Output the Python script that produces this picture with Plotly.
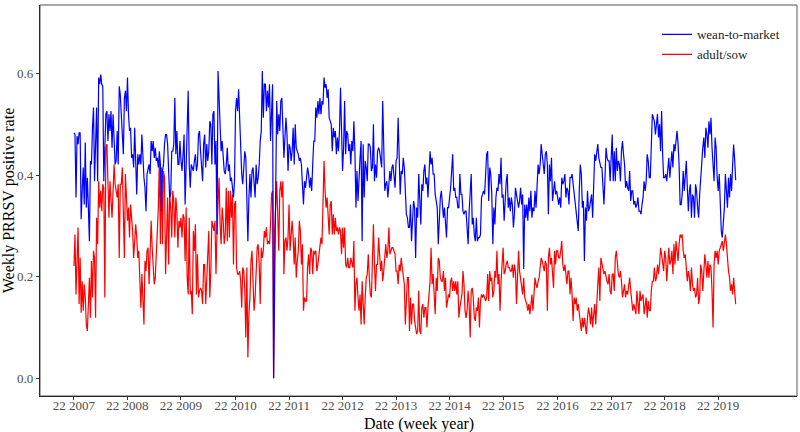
import datetime as dt
import pandas as pd
import plotly.graph_objects as go

# Weekly PRRSV positive rate, starting week 22 of 2007 (weekly observations)
start_week = "2007-05-28"

wean_to_market = [
    0.483, 0.480, 0.356, 0.477, 0.461, 0.483, 0.483, 0.313, 0.369, 0.415,
    0.342, 0.464, 0.336, 0.395, 0.336, 0.270, 0.428, 0.421, 0.493,
    0.533, 0.388, 0.487, 0.533, 0.388, 0.592, 0.579, 0.598, 0.579, 0.575,
    0.388, 0.487, 0.520, 0.526, 0.467, 0.520, 0.487, 0.526, 0.454, 0.520,
    0.474, 0.421, 0.428, 0.487, 0.421, 0.575, 0.559, 0.520, 0.474,
    0.441, 0.552, 0.566, 0.526, 0.592, 0.520, 0.487, 0.493, 0.434, 0.441,
    0.415, 0.493, 0.402, 0.362,
    0.441, 0.421, 0.441, 0.421, 0.480, 0.428, 0.395, 0.375, 0.329, 0.402,
    0.415, 0.421, 0.402, 0.467, 0.447, 0.467, 0.434, 0.454, 0.428,
    0.434, 0.415, 0.447, 0.421, 0.329, 0.408, 0.421, 0.461, 0.480, 0.480,
    0.461, 0.408, 0.356, 0.362, 0.447, 0.447, 0.461, 0.552, 0.441, 0.487,
    0.421, 0.421, 0.467, 0.428, 0.408, 0.441, 0.480, 0.342, 0.408,
    0.487, 0.566, 0.421, 0.375, 0.421, 0.415, 0.408, 0.428, 0.441, 0.408,
    0.421, 0.480, 0.487, 0.447, 0.402, 0.388, 0.461, 0.480,
    0.415, 0.461, 0.428, 0.447, 0.506, 0.500, 0.421, 0.520, 0.526, 0.421,
    0.467, 0.283, 0.605, 0.539, 0.474, 0.447, 0.467, 0.421, 0.408,
    0.402, 0.421, 0.454, 0.408, 0.421, 0.388, 0.395, 0.369, 0.356, 0.388,
    0.526, 0.552, 0.526, 0.569, 0.500, 0.461, 0.402, 0.382, 0.421, 0.447,
    0.434, 0.336, 0.270, 0.356, 0.402, 0.356, 0.408, 0.415, 0.382,
    0.356, 0.421, 0.382, 0.395, 0.421, 0.467, 0.487, 0.605, 0.513, 0.579,
    0.579, 0.526, 0.566, 0.533, 0.579, 0.467, 0.533, 0.579,
    0.000, 0.231, 0.441, 0.546, 0.480, 0.520, 0.487, 0.546, 0.552, 0.493,
    0.434, 0.474, 0.513, 0.480, 0.408, 0.461, 0.454, 0.428, 0.447,
    0.493, 0.421, 0.500, 0.454, 0.447, 0.441, 0.428, 0.434, 0.421, 0.369,
    0.342, 0.388, 0.375, 0.395, 0.415, 0.402, 0.375, 0.395, 0.369, 0.421,
    0.467, 0.467, 0.533, 0.513, 0.546, 0.520, 0.552, 0.520, 0.546,
    0.539, 0.592, 0.572, 0.579, 0.552, 0.569, 0.513, 0.506, 0.500, 0.447,
    0.493, 0.474, 0.487, 0.441, 0.474, 0.447, 0.487, 0.572,
    0.454, 0.408, 0.454, 0.546, 0.441, 0.487, 0.480, 0.447, 0.461, 0.421,
    0.467, 0.447, 0.506, 0.447, 0.336, 0.408, 0.349, 0.402, 0.434, 0.467,
    0.270, 0.461, 0.356, 0.428, 0.415, 0.388, 0.461, 0.461, 0.454, 0.408,
    0.415, 0.500, 0.388, 0.421, 0.395, 0.447, 0.454, 0.447, 0.428, 0.415,
    0.546, 0.454, 0.369, 0.382, 0.388, 0.356, 0.382, 0.408,
    0.388, 0.415, 0.421, 0.402, 0.375, 0.428, 0.434, 0.513, 0.408, 0.362,
    0.408, 0.402, 0.434, 0.415, 0.369, 0.323, 0.316, 0.297,
    0.297, 0.342, 0.270, 0.316, 0.349, 0.336, 0.237, 0.336, 0.316, 0.402,
    0.336, 0.303, 0.382, 0.369, 0.408, 0.421, 0.382, 0.395, 0.356,
    0.421, 0.447, 0.421, 0.434, 0.402, 0.402, 0.362, 0.342, 0.336, 0.264,
    0.323, 0.356, 0.369, 0.342, 0.316, 0.336, 0.310, 0.277, 0.336, 0.336,
    0.356, 0.375, 0.408, 0.441, 0.369, 0.375, 0.356, 0.356, 0.336,
    0.336, 0.402, 0.362, 0.362, 0.329, 0.323, 0.329, 0.329, 0.303, 0.264,
    0.329, 0.369, 0.402, 0.303, 0.316, 0.283, 0.270, 0.316,
    0.270, 0.277, 0.277, 0.283, 0.356, 0.362, 0.369, 0.362, 0.395, 0.441,
    0.447, 0.349, 0.415, 0.402, 0.362, 0.264, 0.336, 0.303, 0.356, 0.375,
    0.369, 0.402, 0.382, 0.434, 0.356, 0.362, 0.310, 0.356, 0.388, 0.402,
    0.336, 0.356, 0.329, 0.356, 0.342, 0.297, 0.323, 0.375, 0.362, 0.356,
    0.336, 0.349, 0.375, 0.342, 0.362, 0.215, 0.342, 0.316,
    0.342, 0.310, 0.356, 0.329, 0.369, 0.316, 0.336, 0.329, 0.369, 0.336,
    0.375, 0.421, 0.402, 0.421, 0.461, 0.434, 0.421, 0.402,
    0.441, 0.447, 0.421, 0.323, 0.421, 0.388, 0.434, 0.349, 0.369, 0.388,
    0.362, 0.369, 0.356, 0.342, 0.356, 0.336, 0.395, 0.382, 0.388,
    0.402, 0.356, 0.375, 0.369, 0.342, 0.395, 0.395, 0.402, 0.382, 0.356,
    0.349, 0.329, 0.310, 0.290, 0.369, 0.421, 0.402, 0.336, 0.349, 0.231,
    0.336, 0.310, 0.369, 0.329, 0.336, 0.356, 0.362, 0.316, 0.362,
    0.441, 0.428, 0.447, 0.461, 0.434, 0.421, 0.415, 0.415, 0.388, 0.342,
    0.395, 0.454, 0.434, 0.428, 0.428, 0.388, 0.434, 0.480,
    0.388, 0.447, 0.388, 0.454, 0.408, 0.428, 0.421, 0.388, 0.447, 0.467,
    0.441, 0.421, 0.375, 0.388, 0.375, 0.369, 0.408, 0.349, 0.369,
    0.369, 0.342, 0.349, 0.336, 0.342, 0.356, 0.329, 0.329, 0.323, 0.342,
    0.356, 0.388, 0.369, 0.388, 0.441, 0.428, 0.395, 0.395, 0.461, 0.520,
    0.513, 0.506, 0.480, 0.500, 0.520, 0.474, 0.500, 0.447, 0.526,
    0.441, 0.395, 0.395, 0.402, 0.388, 0.408, 0.434, 0.395, 0.421, 0.447,
    0.415, 0.461, 0.447, 0.467, 0.487, 0.461, 0.421, 0.342,
    0.342, 0.362, 0.408, 0.369, 0.395, 0.428, 0.375, 0.329, 0.369, 0.382,
    0.316, 0.362, 0.356, 0.316, 0.382, 0.369, 0.336, 0.316, 0.362,
    0.402, 0.428, 0.454, 0.474, 0.434, 0.493, 0.480, 0.454, 0.506, 0.480,
    0.513, 0.454, 0.428,
    0.388, 0.474, 0.454, 0.395, 0.369, 0.402, 0.336, 0.290, 0.277, 0.303,
    0.336, 0.402, 0.369, 0.336, 0.395, 0.356, 0.402, 0.369, 0.420, 0.460,
    0.430, 0.390,
]

adult_sow = [
    0.221, 0.283, 0.165, 0.251, 0.297, 0.146, 0.237, 0.129, 0.191, 0.133,
    0.185, 0.159, 0.106, 0.093, 0.172, 0.198, 0.119, 0.231, 0.159,
    0.251, 0.237, 0.119, 0.316, 0.264, 0.388, 0.336, 0.369, 0.329, 0.382,
    0.375, 0.159, 0.454, 0.461, 0.369, 0.316, 0.388, 0.342, 0.316, 0.369,
    0.421, 0.382, 0.369, 0.356, 0.382, 0.237, 0.382, 0.382, 0.415,
    0.342, 0.237, 0.402, 0.342, 0.310, 0.336, 0.277, 0.342, 0.316, 0.290,
    0.237, 0.277, 0.303, 0.277,
    0.237, 0.251, 0.172, 0.139, 0.205, 0.159, 0.106, 0.231, 0.211, 0.251,
    0.257, 0.185, 0.231, 0.310, 0.257, 0.218, 0.185, 0.198, 0.251,
    0.277, 0.336, 0.434, 0.264, 0.415, 0.264, 0.408, 0.395, 0.205, 0.316,
    0.356, 0.224, 0.362, 0.336, 0.277, 0.369, 0.349, 0.277, 0.356, 0.329,
    0.257, 0.310, 0.297, 0.316, 0.277, 0.323, 0.316, 0.231, 0.336,
    0.198, 0.165, 0.316, 0.165, 0.172, 0.126, 0.290, 0.251, 0.303, 0.165,
    0.244, 0.159, 0.172, 0.178, 0.172, 0.146, 0.224, 0.224,
    0.146, 0.205, 0.270, 0.290, 0.159, 0.211, 0.310, 0.297, 0.290, 0.310,
    0.205, 0.290, 0.336, 0.395, 0.303, 0.264, 0.336, 0.310, 0.264,
    0.283, 0.375, 0.270, 0.369, 0.277, 0.369, 0.316, 0.362, 0.224, 0.342,
    0.349, 0.218, 0.205, 0.205, 0.211, 0.191, 0.139, 0.218, 0.211, 0.172,
    0.080, 0.218, 0.041, 0.126, 0.159, 0.231, 0.251, 0.191, 0.133,
    0.159, 0.205, 0.257, 0.264, 0.224, 0.146, 0.257, 0.237, 0.251, 0.290,
    0.277, 0.297, 0.264, 0.270, 0.264, 0.303, 0.362, 0.369,
    0.000, 0.290, 0.342, 0.388, 0.323, 0.251, 0.369, 0.388, 0.356, 0.388,
    0.205, 0.270, 0.277, 0.251, 0.277, 0.342, 0.251, 0.290, 0.310,
    0.277, 0.224, 0.277, 0.198, 0.231, 0.251, 0.310, 0.290, 0.224, 0.264,
    0.133, 0.159, 0.152, 0.152, 0.218, 0.244, 0.205, 0.257, 0.251, 0.205,
    0.251, 0.244, 0.251, 0.211, 0.224, 0.244, 0.257, 0.277, 0.264,
    0.369, 0.428, 0.369, 0.336, 0.356, 0.316, 0.283, 0.342, 0.349, 0.283,
    0.323, 0.283, 0.316, 0.290, 0.297, 0.283, 0.297, 0.290,
    0.244, 0.297, 0.257, 0.297, 0.224, 0.218, 0.237, 0.218, 0.218, 0.237,
    0.224, 0.218, 0.270, 0.133, 0.185, 0.198, 0.159, 0.133, 0.165, 0.106,
    0.191, 0.133, 0.106, 0.159, 0.198, 0.205, 0.244, 0.198, 0.165, 0.159,
    0.251, 0.303, 0.224, 0.172, 0.224, 0.224, 0.277, 0.231, 0.211, 0.231,
    0.191, 0.211, 0.237, 0.264, 0.237, 0.251, 0.297, 0.244,
    0.251, 0.257, 0.257, 0.251, 0.244, 0.211, 0.211, 0.185, 0.224, 0.211,
    0.237, 0.218, 0.198, 0.185, 0.106, 0.178, 0.198, 0.198,
    0.093, 0.159, 0.106, 0.146, 0.146, 0.113, 0.093, 0.087, 0.093, 0.172,
    0.093, 0.087, 0.139, 0.146, 0.119, 0.139, 0.139, 0.100, 0.139,
    0.159, 0.191, 0.257, 0.185, 0.205, 0.159, 0.126, 0.198, 0.172, 0.237,
    0.231, 0.198, 0.191, 0.191, 0.211, 0.172, 0.198, 0.139, 0.152, 0.165,
    0.159, 0.191, 0.198, 0.172, 0.191, 0.172, 0.191, 0.165, 0.191,
    0.119, 0.139, 0.159, 0.165, 0.211, 0.185, 0.133, 0.119, 0.133, 0.172,
    0.146, 0.080, 0.172, 0.178, 0.159, 0.119, 0.113, 0.139,
    0.133, 0.159, 0.100, 0.152, 0.165, 0.159, 0.165, 0.159, 0.152, 0.159,
    0.205, 0.152, 0.211, 0.191, 0.198, 0.159, 0.172, 0.211, 0.198, 0.251,
    0.185, 0.205, 0.133, 0.191, 0.218, 0.257, 0.205, 0.211, 0.224, 0.231,
    0.218, 0.218, 0.211, 0.211, 0.224, 0.198, 0.224, 0.211, 0.146, 0.205,
    0.251, 0.211, 0.191, 0.178, 0.165, 0.198, 0.159, 0.152,
    0.146, 0.133, 0.146, 0.126, 0.146, 0.165, 0.133, 0.172, 0.198, 0.185,
    0.178, 0.191, 0.198, 0.218, 0.237, 0.231, 0.218, 0.211,
    0.231, 0.224, 0.133, 0.237, 0.257, 0.224, 0.237, 0.211, 0.178, 0.251,
    0.224, 0.251, 0.251, 0.237, 0.237, 0.251, 0.270, 0.224, 0.211,
    0.224, 0.205, 0.185, 0.211, 0.211, 0.165, 0.198, 0.165, 0.113, 0.159,
    0.146, 0.159, 0.133, 0.146, 0.126, 0.106, 0.093, 0.119, 0.100, 0.119,
    0.100, 0.087, 0.119, 0.139, 0.126, 0.106, 0.139, 0.100, 0.126,
    0.146, 0.106, 0.165, 0.185, 0.218, 0.152, 0.237, 0.224, 0.218, 0.205,
    0.211, 0.198, 0.191, 0.185, 0.205, 0.172, 0.165, 0.205,
    0.205, 0.172, 0.237, 0.251, 0.224, 0.205, 0.198, 0.211, 0.191, 0.159,
    0.172, 0.185, 0.159, 0.172, 0.165, 0.191, 0.198, 0.172, 0.146,
    0.133, 0.146, 0.133, 0.126, 0.172, 0.146, 0.126, 0.172, 0.152, 0.159,
    0.165, 0.126, 0.146, 0.159, 0.119, 0.152, 0.133, 0.133, 0.172, 0.191,
    0.191, 0.218, 0.191, 0.198, 0.224, 0.205, 0.224, 0.257, 0.244,
    0.231, 0.211, 0.251, 0.237, 0.191, 0.231, 0.257, 0.224, 0.231, 0.251,
    0.205, 0.264, 0.224, 0.270, 0.251, 0.231, 0.264, 0.283,
    0.277, 0.283, 0.251, 0.237, 0.244, 0.218, 0.191, 0.211, 0.198, 0.172,
    0.218, 0.185, 0.172, 0.178, 0.159, 0.165, 0.198, 0.146, 0.159,
    0.224, 0.211, 0.172, 0.211, 0.244, 0.224, 0.198, 0.231, 0.198, 0.224,
    0.218, 0.172, 0.100,
    0.224, 0.251, 0.237, 0.251, 0.224, 0.251, 0.257, 0.264, 0.270, 0.251,
    0.270, 0.283, 0.264, 0.231, 0.211, 0.198, 0.172, 0.185, 0.165, 0.198,
    0.172, 0.146,
]

series_names = ["wean-to-market", "adult/sow"]
series_colors = ["#0000FF", "#FF0000"]
tick_years = list(range(2007, 2020))
tick_labels = [f"22 {y}" for y in tick_years]
y_ticks = [0.0, 0.2, 0.4, 0.6]
x_title = "Date (week year)"
y_title = "Weekly PRRSV positive rate"

assert len(wean_to_market) == len(adult_sow), (len(wean_to_market), len(adult_sow))
weeks = pd.date_range(start_week, periods=len(wean_to_market), freq="7D")
tick_dates = [dt.date.fromisocalendar(y, 22, 1) for y in tick_years]

SERIF = "Liberation Serif, Times New Roman, serif"

fig = go.Figure()
# adult/sow drawn first, wean-to-market on top
fig.add_trace(go.Scatter(x=weeks, y=adult_sow, mode="lines", name=series_names[1],
                         line=dict(color=series_colors[1], width=1.2)))
fig.add_trace(go.Scatter(x=weeks, y=wean_to_market, mode="lines", name=series_names[0],
                         line=dict(color=series_colors[0], width=1.2)))

fig.update_layout(
    width=800, height=432,
    margin=dict(l=40, r=3, t=5, b=36),
    paper_bgcolor="white", plot_bgcolor="white",
    font=dict(family=SERIF, size=13, color="#4D4D4D"),
    showlegend=True,
    legend=dict(x=0.815, y=0.963, xanchor="left", yanchor="top",
                traceorder="reversed", bgcolor="rgba(0,0,0,0)",
                font=dict(family=SERIF, size=13, color="#222222"),
                itemwidth=30, tracegroupgap=0),
    shapes=[dict(type="rect", xref="paper", yref="paper", x0=0, x1=1, y0=0, y1=1,
                 line=dict(color="#555555", width=1), layer="above")],
    annotations=[dict(text=x_title, xref="paper", yref="paper", x=0.5, y=-0.071,
                      xanchor="center", yanchor="middle", showarrow=False,
                      font=dict(family=SERIF, size=16, color="black"))],
)

fig.update_xaxes(
    type="date",
    range=["2006-10-09", "2020-11-13"],
    tickvals=tick_dates, ticktext=tick_labels,
    showgrid=False, zeroline=False,
    showline=True, linecolor="black", linewidth=1.3,
    ticks="outside", ticklen=3, tickcolor="#333333", tickwidth=1,
    ticklabelstandoff=-6,
    tickfont=dict(family=SERIF, size=13, color="#4D4D4D"),
    automargin=False,
)
fig.update_yaxes(
    range=[-0.035, 0.735],
    tickvals=y_ticks, tickformat=".1f",
    showgrid=False, zeroline=False,
    showline=True, linecolor="black", linewidth=1.3,
    ticks="outside", ticklen=3, tickcolor="#333333", tickwidth=1,
    tickfont=dict(family=SERIF, size=13, color="#4D4D4D"),
    title=dict(text=y_title, font=dict(family=SERIF, size=16, color="black"), standoff=4),
    automargin=False,
)

fig.write_html("out.html", config={"displayModeBar": False},
               post_script="document.body.style.margin='0';document.body.style.padding='0';")
